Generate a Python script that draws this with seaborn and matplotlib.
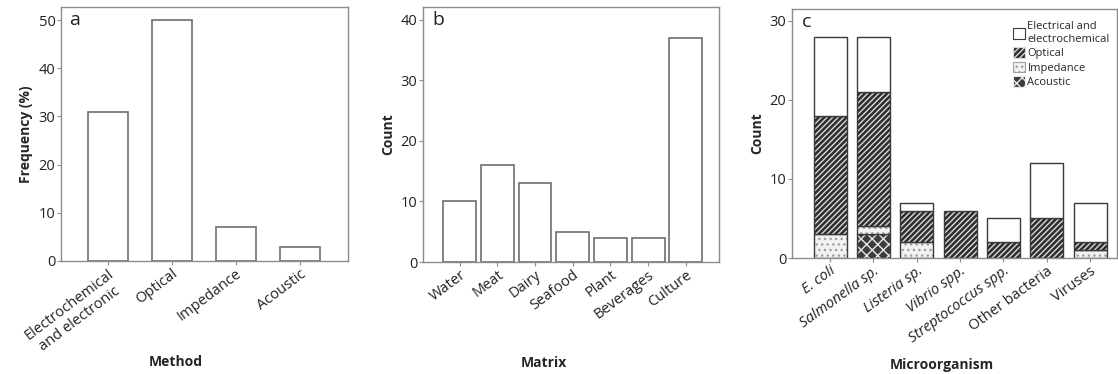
import pandas as pd
import numpy as np
import matplotlib
matplotlib.use('Agg')
import matplotlib.pyplot as plt
import seaborn as sns
from matplotlib.patches import Patch

sns.set_style('white')
plt.rcParams['font.family'] = ['Open Sans', 'DejaVu Sans']
plt.rcParams['hatch.linewidth'] = 1.0

# panel a
methods = ['Electrochemical\nand electronic', 'Optical', 'Impedance', 'Acoustic']
method_freq = [31, 50, 7, 3]

# panel b
matrices = ['Water', 'Meat', 'Dairy', 'Seafood', 'Plant', 'Beverages', 'Culture']
matrix_count = [10, 16, 13, 5, 4, 4, 37]

# panel c
microbes = ['E. coli', 'Salmonella sp.', 'Listeria sp.', 'Vibrio spp.',
            'Streptococcus spp.', 'Other bacteria', 'Viruses']
italic_names = ['E. coli', 'Salmonella sp.', 'Listeria sp.', 'Vibrio spp.',
                'Streptococcus spp.']
acoustic = [0, 3, 0, 0, 0, 0, 0]
impedance = [3, 1, 2, 0, 0, 0, 1]
optical = [15, 17, 4, 6, 2, 5, 1]
electrical = [10, 7, 1, 0, 3, 7, 5]

frame = '#8c8c8c'
barline = '#6e6e6e'

fig = plt.figure(figsize=(11.18, 3.74), dpi=100)
axA = fig.add_axes([61/1118, 1-261/374, 287/1118, 254/374])
axB = fig.add_axes([423/1118, 1-262/374, 296/1118, 255/374])
axC = fig.add_axes([792/1118, 1-258/374, 325/1118, 249/374])


def style(ax, letter, ylabel, xlabel, labpos, rot=37):
    for s in ax.spines.values():
        s.set_color(frame)
        s.set_linewidth(1.0)
    ax.tick_params(axis='both', direction='out', length=3, width=0.8,
                   color=frame, labelsize=10.5, pad=1, labelcolor='#222222')
    ax.tick_params(axis='y', left=True)
    ax.tick_params(axis='x', bottom=True, labelsize=10.5)
    ax.set_ylabel(ylabel, fontsize=10, fontweight='bold', labelpad=4)
    ax.set_xlabel(xlabel, fontsize=10, fontweight='bold')
    ax.xaxis.set_label_coords(*labpos)
    ax.text(0.03, 0.985, letter, transform=ax.transAxes, fontsize=14,
            va='top', ha='left', color='#222222')
    for lab in ax.get_xticklabels():
        lab.set_rotation(rot)
        lab.set_ha('right')
        lab.set_rotation_mode('anchor')


# a
sns.barplot(x=methods, y=method_freq, color='white', edgecolor=barline,
            linewidth=1.2, width=0.625, ax=axA)
axA.set_xlim(-0.73, 3.75)
axA.set_ylim(0, 52.7)
axA.set_yticks([0, 10, 20, 30, 40, 50])
style(axA, 'a', 'Frequency (%)', 'Method', (0.40, -0.37))
for lab in axA.get_xticklabels():
    lab.set_multialignment('center')

# b
sns.barplot(x=matrices, y=matrix_count, color='white', edgecolor=barline,
            linewidth=1.2, width=0.87, ax=axB)
axB.set_xlim(-0.97, 6.88)
axB.set_ylim(0, 42.1)
axB.set_yticks([0, 10, 20, 30, 40])
style(axB, 'b', 'Count', 'Matrix', (0.41, -0.37))

# c stacked: fill layer (hatch in edgecolor, no outline) + outline layer
bottom = np.zeros(len(microbes))
layers = [
    ('Acoustic', acoustic, '#3c3c3c', 'xxx', '#e8e8e8'),
    ('Impedance', impedance, '#f2f2f2', '...', '#a0a0a0'),
    ('Optical', optical, '#2e2e2e', '//////', '#d8d8d8'),
    ('Electrical and\nelectrochemical', electrical, '#ffffff', '', '#ffffff'),
]
handles = []
for name, vals, fc, hatch, hc in layers:
    vals = np.array(vals, dtype=float)
    n0 = len(axC.patches)
    sns.barplot(x=microbes, y=vals, bottom=bottom, color=fc, edgecolor=hc,
                linewidth=0, width=0.76, hatch=hatch, ax=axC)
    sns.barplot(x=microbes, y=vals, bottom=bottom, color='#3a3a3a',
                fill=False, linewidth=1.0, width=0.76, ax=axC)
    for p in axC.patches[n0:]:
        if p.get_height() <= 0:
            p.set_visible(False)
    bottom = bottom + vals
    handles.append(Patch(facecolor=fc, edgecolor=hc, hatch=hatch, label=name))
axC.set_xlim(-0.88, 6.62)
axC.set_ylim(0, 31.5)
axC.set_yticks([0, 10, 20, 30])
axC.set_xticks(range(len(microbes)))
axC.set_xticklabels(microbes)
style(axC, 'c', 'Count', 'Microorganism', (0.46, -0.40), rot=36)
for lab in axC.get_xticklabels():
    if lab.get_text() in italic_names:
        lab.set_fontstyle('italic')
leg = axC.legend(handles=handles[::-1], loc='upper left', frameon=False,
                 fontsize=8, handlelength=1.1, handleheight=1.1,
                 handletextpad=0.2, labelspacing=0.2,
                 bbox_to_anchor=(0.68, 0.95), borderaxespad=0, borderpad=0)
for h in leg.legend_handles:
    h.set_linewidth(0.8)
    if h.get_label().startswith('Electrical'):
        h.set_edgecolor('#3a3a3a')

fig.savefig('out.png', dpi=100)
